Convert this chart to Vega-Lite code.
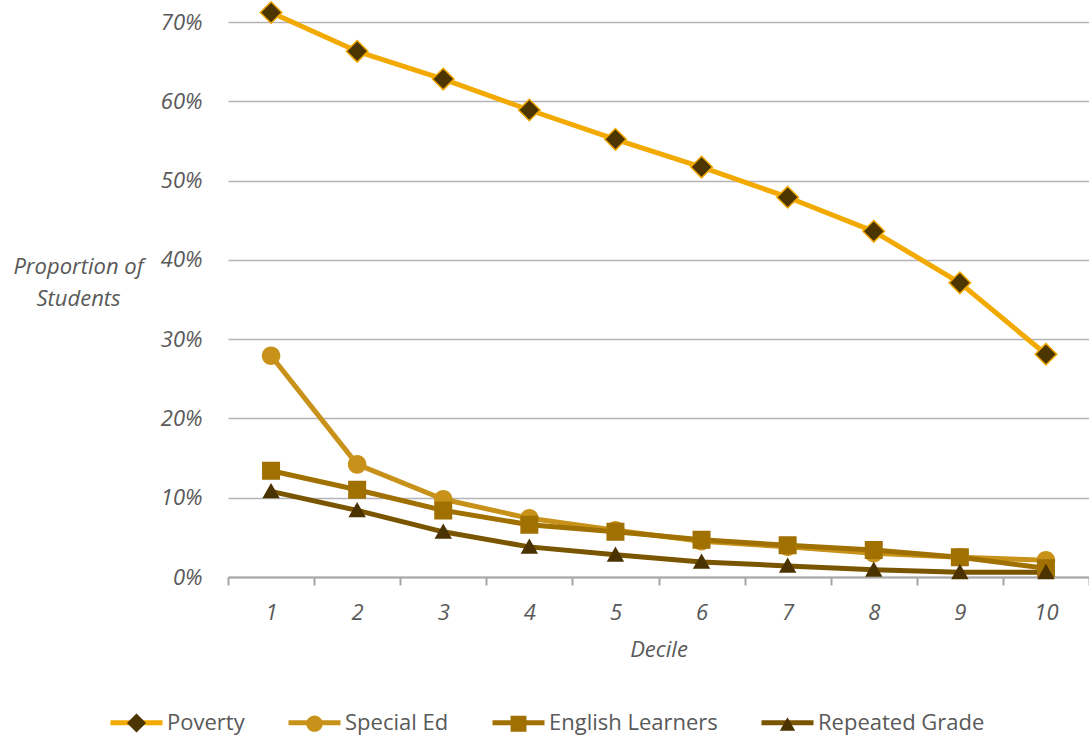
{
  "$schema": "https://vega.github.io/schema/vega-lite/v6.json",
  "width": 861,
  "height": 555,
  "autosize": {"type": "none"},
  "padding": {"left": 228, "top": 22, "right": 0, "bottom": 162},
  "background": "white",
  "config": {"view": {"stroke": null}, "font": "Open Sans"},
  "data": {"values": [
    {"decile": 1, "series": "Poverty", "value": 0.712},
    {"decile": 2, "series": "Poverty", "value": 0.663},
    {"decile": 3, "series": "Poverty", "value": 0.628},
    {"decile": 4, "series": "Poverty", "value": 0.589},
    {"decile": 5, "series": "Poverty", "value": 0.552},
    {"decile": 6, "series": "Poverty", "value": 0.517},
    {"decile": 7, "series": "Poverty", "value": 0.479},
    {"decile": 8, "series": "Poverty", "value": 0.436},
    {"decile": 9, "series": "Poverty", "value": 0.371},
    {"decile": 10, "series": "Poverty", "value": 0.281},
    {"decile": 1, "series": "Special Ed", "value": 0.279},
    {"decile": 2, "series": "Special Ed", "value": 0.142},
    {"decile": 3, "series": "Special Ed", "value": 0.098},
    {"decile": 4, "series": "Special Ed", "value": 0.074},
    {"decile": 5, "series": "Special Ed", "value": 0.059},
    {"decile": 6, "series": "Special Ed", "value": 0.045},
    {"decile": 7, "series": "Special Ed", "value": 0.038},
    {"decile": 8, "series": "Special Ed", "value": 0.030},
    {"decile": 9, "series": "Special Ed", "value": 0.025},
    {"decile": 10, "series": "Special Ed", "value": 0.021},
    {"decile": 1, "series": "English Learners", "value": 0.134},
    {"decile": 2, "series": "English Learners", "value": 0.110},
    {"decile": 3, "series": "English Learners", "value": 0.084},
    {"decile": 4, "series": "English Learners", "value": 0.066},
    {"decile": 5, "series": "English Learners", "value": 0.057},
    {"decile": 6, "series": "English Learners", "value": 0.047},
    {"decile": 7, "series": "English Learners", "value": 0.040},
    {"decile": 8, "series": "English Learners", "value": 0.034},
    {"decile": 9, "series": "English Learners", "value": 0.025},
    {"decile": 10, "series": "English Learners", "value": 0.011},
    {"decile": 1, "series": "Repeated Grade", "value": 0.108},
    {"decile": 2, "series": "Repeated Grade", "value": 0.084},
    {"decile": 3, "series": "Repeated Grade", "value": 0.057},
    {"decile": 4, "series": "Repeated Grade", "value": 0.038},
    {"decile": 5, "series": "Repeated Grade", "value": 0.028},
    {"decile": 6, "series": "Repeated Grade", "value": 0.019},
    {"decile": 7, "series": "Repeated Grade", "value": 0.014},
    {"decile": 8, "series": "Repeated Grade", "value": 0.009},
    {"decile": 9, "series": "Repeated Grade", "value": 0.006},
    {"decile": 10, "series": "Repeated Grade", "value": 0.006}
  ]},
  "encoding": {
    "x": {
      "field": "decile", "type": "ordinal", "bandPosition": 0.5,
      "scale": {"type": "band", "paddingInner": 0, "paddingOuter": 0},
      "axis": {
        "title": "Decile", "labelAngle": 0, "tickBand": "extent",
        "domainColor": "#A6A6A6", "domainWidth": 2, "tickColor": "#A6A6A6", "tickWidth": 2, "tickSize": 8,
        "labelFont": "Open Sans", "labelFontSize": 22, "labelFontStyle": "italic", "labelColor": "#595959", "labelPadding": 17,
        "titleFont": "Open Sans", "titleFontSize": 22, "titleFontStyle": "italic", "titleFontWeight": "normal", "titleColor": "#595959", "titlePadding": 16,
        "grid": false
      }
    },
    "y": {
      "field": "value", "type": "quantitative",
      "scale": {"domain": [0, 0.7], "nice": false},
      "axis": {
        "title": ["Proportion of", "Students"], "titleAngle": 0, "titleAlign": "center", "titleBaseline": "alphabetic",
        "titleX": -150, "titleY": 251, "titleLineHeight": 32,
        "titleFont": "Open Sans", "titleFontSize": 22, "titleFontStyle": "italic", "titleFontWeight": "normal", "titleColor": "#595959",
        "values": [0, 0.1, 0.2, 0.3, 0.4, 0.5, 0.6, 0.7], "format": ".0%",
        "domain": false, "ticks": false, "labelPadding": 26,
        "labelFont": "Open Sans", "labelFontSize": 22, "labelFontStyle": "italic", "labelColor": "#595959",
        "grid": true, "gridColor": "#B4B4B8", "gridWidth": 1.5
      }
    }
  },
  "layer": [
    {
      "mark": {"type": "line", "strokeWidth": 5, "strokeJoin": "round"},
      "encoding": {
        "color": {
          "field": "series", "type": "nominal",
          "scale": {"domain": ["Poverty", "Special Ed", "English Learners", "Repeated Grade"], "range": ["#F2A900", "#C8921A", "#A07000", "#7A5500"]},
          "legend": {
            "orient": "none", "legendX": -120, "legendY": 672, "direction": "horizontal", "title": null,
            "symbolType": "stroke", "symbolSize": 2704, "symbolStrokeWidth": 5,
            "labelFont": "Open Sans", "labelFontSize": 22, "labelColor": "#595959", "labelOffset": 2, "columnPadding": 33, "labelLimit": 400
          }
        }
      }
    },
    {
      "mark": {"type": "point", "filled": true, "opacity": 1, "size": 3481},
      "encoding": {
        "fill": {
          "field": "series", "type": "nominal",
          "scale": {"domain": ["Poverty", "Special Ed", "English Learners", "Repeated Grade"], "range": ["#4D3500", "#C8921A", "#A07000", "#4A3300"]},
          "legend": {
            "orient": "none", "legendX": -120, "legendY": 672, "direction": "horizontal", "title": null,
            "symbolSize": 2704, "symbolStrokeWidth": 5, "symbolStrokeColor": "transparent", "labelOpacity": 0,
            "labelFont": "Open Sans", "labelFontSize": 22, "labelColor": "#595959", "labelOffset": 2, "columnPadding": 33, "labelLimit": 400
          }
        },
        "shape": {
          "field": "series", "type": "nominal",
          "scale": {"domain": ["Poverty", "Special Ed", "English Learners", "Repeated Grade"], "range": [
            "M-1,0L-1,0M1,0L1,0M0,-0.366L0.366,0L0,0.366L-0.366,0Z",
            "M-1,0L-1,0M1,0L1,0M0.315,0A0.315,0.315,0,1,1,-0.315,0A0.315,0.315,0,1,1,0.315,0Z",
            "M-1,0L-1,0M1,0L1,0M-0.305,-0.305H0.305V0.305H-0.305Z",
            "M-1,0L-1,0M1,0L1,0M0,-0.285L0.295,0.235L-0.295,0.235Z"
          ]},
          "legend": {
            "orient": "none", "legendX": -120, "legendY": 672, "direction": "horizontal", "title": null,
            "symbolSize": 2704, "symbolStrokeWidth": 5, "symbolStrokeColor": "transparent", "labelOpacity": 0,
            "labelFont": "Open Sans", "labelFontSize": 22, "labelColor": "#595959", "labelOffset": 2, "columnPadding": 33, "labelLimit": 400
          }
        }
      }
    },
    {
      "transform": [{"filter": "datum.series === 'Poverty'"}],
      "mark": {"type": "point", "filled": true, "opacity": 1, "size": 3481, "shape": "M0,-0.366L0.366,0L0,0.366L-0.366,0Z", "fill": "#4D3500", "stroke": "#F2A900", "strokeWidth": 1.5},
      "encoding": {}
    }
  ],
  "resolve": {
    "scale": {"color": "independent", "fill": "independent", "shape": "independent"},
    "legend": {"color": "independent", "fill": "independent", "shape": "independent"}
  }
}
